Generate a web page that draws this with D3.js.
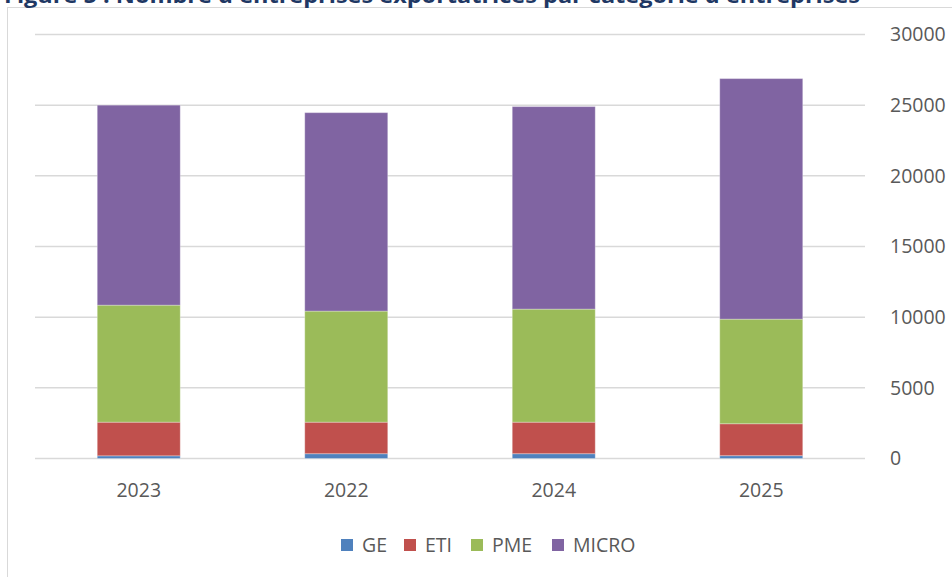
<!DOCTYPE html>
<html><head><meta charset="utf-8">
<script src="https://cdn.jsdelivr.net/npm/d3@7"></script>
<style>body{margin:0;background:#fff;overflow:hidden}svg{display:block}</style>
</head><body>
<script>
const categories = ["2023", "2022", "2024", "2025"];
const seriesNames = ["GE", "ETI", "PME", "MICRO"];
const GE    = [190, 340, 340, 200];
const ETI   = [2380, 2230, 2230, 2260];
const PME   = [8280, 7860, 8000, 7400];
const MICRO = [14150, 14040, 14330, 17020];
const yTicks = [0, 5000, 10000, 15000, 20000, 25000, 30000];
const colors = ["#4F81BD", "#C0504D", "#9BBB59", "#8064A2"];
const titleText = "Figure 5 : Nombre d'entreprises exportatrices par catégorie d'entreprises";

const W = 952, H = 577;
const svg = d3.select("body").append("svg").attr("width", W).attr("height", H);
const font = "'Open Sans', sans-serif";

// chart border
svg.append("rect").attr("x", 7.5).attr("y", 7.5).attr("width", W + 10).attr("height", H + 10)
  .attr("fill", "none").attr("stroke", "#d9d9d9").attr("stroke-width", 1);

// title (mostly cut off at the top in the reference)
svg.append("text").attr("x", 4).attr("y", 2.5).text(titleText)
  .attr("textLength", 856).attr("lengthAdjust", "spacingAndGlyphs")
  .attr("font-family", font).attr("font-weight", "bold").attr("font-size", 21)
  .attr("fill", "#1F3864");

const x = d3.scaleBand().domain(categories).range([35, 865]).paddingInner(0.6).paddingOuter(0.3);
const y = d3.scaleLinear().domain([0, 30000]).range([458.5, 34.5]);

// gridlines
svg.append("g").selectAll("line").data(yTicks).join("line")
  .attr("x1", 35).attr("x2", 865)
  .attr("y1", d => y(d)).attr("y2", d => y(d))
  .attr("stroke", "#d9d9d9").attr("stroke-width", 1.5);

// right axis
const yAxis = d3.axisRight(y).tickValues(yTicks).tickSize(0).tickPadding(0).tickFormat(d3.format("d"));
const ga = svg.append("g").attr("transform", "translate(890,0)").call(yAxis);
ga.select(".domain").remove();
ga.selectAll("text").attr("font-family", font).attr("font-size", 19.5).attr("fill", "#595959");

// stacked data
const rows = categories.map((c, i) => ({cat: c, GE: GE[i], ETI: ETI[i], PME: PME[i], MICRO: MICRO[i]}));
const stack = d3.stack().keys(seriesNames)(rows);

svg.append("g").selectAll("g").data(stack).join("g")
  .attr("fill", (d, i) => colors[i])
  .selectAll("rect").data(d => d).join("rect")
  .attr("x", d => x(d.data.cat))
  .attr("width", x.bandwidth())
  .attr("y", d => y(d[1]))
  .attr("height", d => y(d[0]) - y(d[1]))
  .attr("stroke", "rgba(255,255,255,0.3)").attr("stroke-width", 1);

// bottom axis
const xAxis = d3.axisBottom(x).tickSize(0).tickPadding(0);
const gx = svg.append("g").attr("transform", "translate(0,483)").call(xAxis);
gx.select(".domain").remove();
gx.selectAll("text").attr("font-family", font).attr("font-size", 19.5).attr("fill", "#595959");

// legend
const legendX = [341, 404, 471, 552];
const lg = svg.append("g").selectAll("g").data(seriesNames).join("g")
  .attr("transform", (d, i) => `translate(${legendX[i]},539)`);
lg.append("rect").attr("width", 12).attr("height", 12).attr("fill", (d, i) => colors[i]);
lg.append("text").attr("x", 21).attr("y", 6).attr("dy", "0.35em").text(d => d)
  .attr("font-family", font).attr("font-size", 19.5).attr("fill", "#595959");
</script>
</body></html>
